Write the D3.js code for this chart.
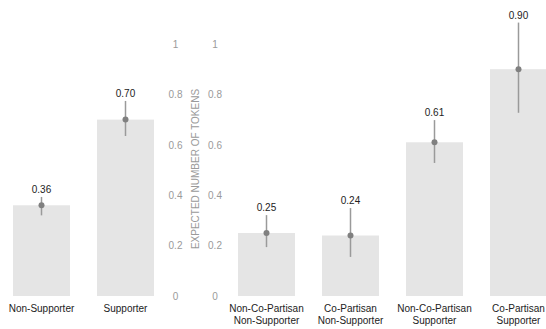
<!DOCTYPE html>
<html>
<head>
<meta charset="utf-8">
<script src="https://cdn.jsdelivr.net/npm/d3@7"></script>
<style>
  body { margin: 0; background: #fff; }
  svg { font-family: "Liberation Sans", Arial, sans-serif; }
</style>
</head>
<body>
<div id="chart"></div>
<script>
// left panel
const leftCats = ["Non-Supporter", "Supporter"];
const leftValues = [0.36, 0.70];
const leftLow = [0.32, 0.635];
const leftHigh = [0.393, 0.774];

// right panel
const rightCats = [
  ["Non-Co-Partisan", "Non-Supporter"],
  ["Co-Partisan", "Non-Supporter"],
  ["Non-Co-Partisan", "Supporter"],
  ["Co-Partisan", "Supporter"]
];
const rightValues = [0.25, 0.24, 0.61, 0.90];
const rightLow = [0.194, 0.155, 0.528, 0.727];
const rightHigh = [0.321, 0.349, 0.698, 1.085];

const yTicks = [0, 0.2, 0.4, 0.6, 0.8, 1];

const width = 546, height = 329;

const svg = d3.select("#chart").append("svg")
  .attr("width", width)
  .attr("height", height);

const y = d3.scaleLinear().domain([0, 1]).range([296, 44]);

// bars are 57 wide on a step of 84
const pIn = 27 / 84, pOut = 13.5 / 84;

function drawPanel(cats, values, lows, highs, x0) {
  const keys = cats.map((c, i) => i);
  const x = d3.scaleBand()
    .domain(keys)
    .range([x0, x0 + 84 * (keys.length - pIn + 2 * pOut)])
    .paddingInner(pIn)
    .paddingOuter(pOut);

  const g = svg.append("g");

  g.selectAll("rect.bar")
    .data(keys)
    .enter().append("rect")
    .attr("class", "bar")
    .attr("x", i => x(i))
    .attr("width", x.bandwidth())
    .attr("y", i => y(values[i]))
    .attr("height", i => y(0) - y(values[i]))
    .attr("fill", "#e5e5e5");

  // error bars
  g.selectAll("line.err")
    .data(keys)
    .enter().append("line")
    .attr("class", "err")
    .attr("x1", i => x(i) + x.bandwidth() / 2)
    .attr("x2", i => x(i) + x.bandwidth() / 2)
    .attr("y1", i => y(lows[i]))
    .attr("y2", i => y(highs[i]))
    .attr("stroke", "#9a9a9a")
    .attr("stroke-width", 1.5);

  g.selectAll("circle.pt")
    .data(keys)
    .enter().append("circle")
    .attr("class", "pt")
    .attr("cx", i => x(i) + x.bandwidth() / 2)
    .attr("cy", i => y(values[i]))
    .attr("r", 3)
    .attr("fill", "#808080");

  // value labels
  g.selectAll("text.val")
    .data(keys)
    .enter().append("text")
    .attr("class", "val")
    .attr("x", i => x(i) + x.bandwidth() / 2)
    .attr("y", i => y(highs[i]) - 4)
    .attr("text-anchor", "middle")
    .style("font-size", "10px")
    .attr("fill", "#222")
    .text(i => values[i].toFixed(2));

  // category labels (one or two lines)
  const lab = g.selectAll("text.cat")
    .data(keys)
    .enter().append("text")
    .attr("class", "cat")
    .attr("text-anchor", "middle")
    .style("font-size", "10px")
    .attr("fill", "#222");

  lab.selectAll("tspan")
    .data(i => {
      const lines = Array.isArray(cats[i]) ? cats[i] : [cats[i]];
      return lines.map((t, j) => ({ t, j, cx: x(i) + x.bandwidth() / 2 }));
    })
    .enter().append("tspan")
    .attr("x", d => d.cx)
    .attr("y", d => 312 + d.j * 12.3)
    .text(d => d.t);
}

function drawAxis(xPos) {
  const ax = svg.append("g")
    .attr("transform", `translate(${xPos},0)`)
    .call(d3.axisLeft(y).tickValues(yTicks).tickSize(0).tickPadding(0)
      .tickFormat(d3.format("~g")));
  ax.select(".domain").remove();
  ax.selectAll("text")
    .attr("x", 0)
    .attr("text-anchor", "middle")
    .attr("fill", "#9a9a9a")
    .style("font-size", "10px")
    .style("font-family", "\"Liberation Sans\", Arial, sans-serif");
}

drawPanel(leftCats, leftValues, leftLow, leftHigh, -0.5);
drawPanel(rightCats, rightValues, rightLow, rightHigh, 224.5);

drawAxis(175.5);
drawAxis(215);

svg.append("text")
  .attr("transform", "translate(195,169) rotate(-90)")
  .attr("dy", "0.35em")
  .attr("text-anchor", "middle")
  .style("font-size", "10px")
  .attr("fill", "#9a9a9a")
  .text("EXPECTED NUMBER OF TOKENS");
</script>
</body>
</html>
